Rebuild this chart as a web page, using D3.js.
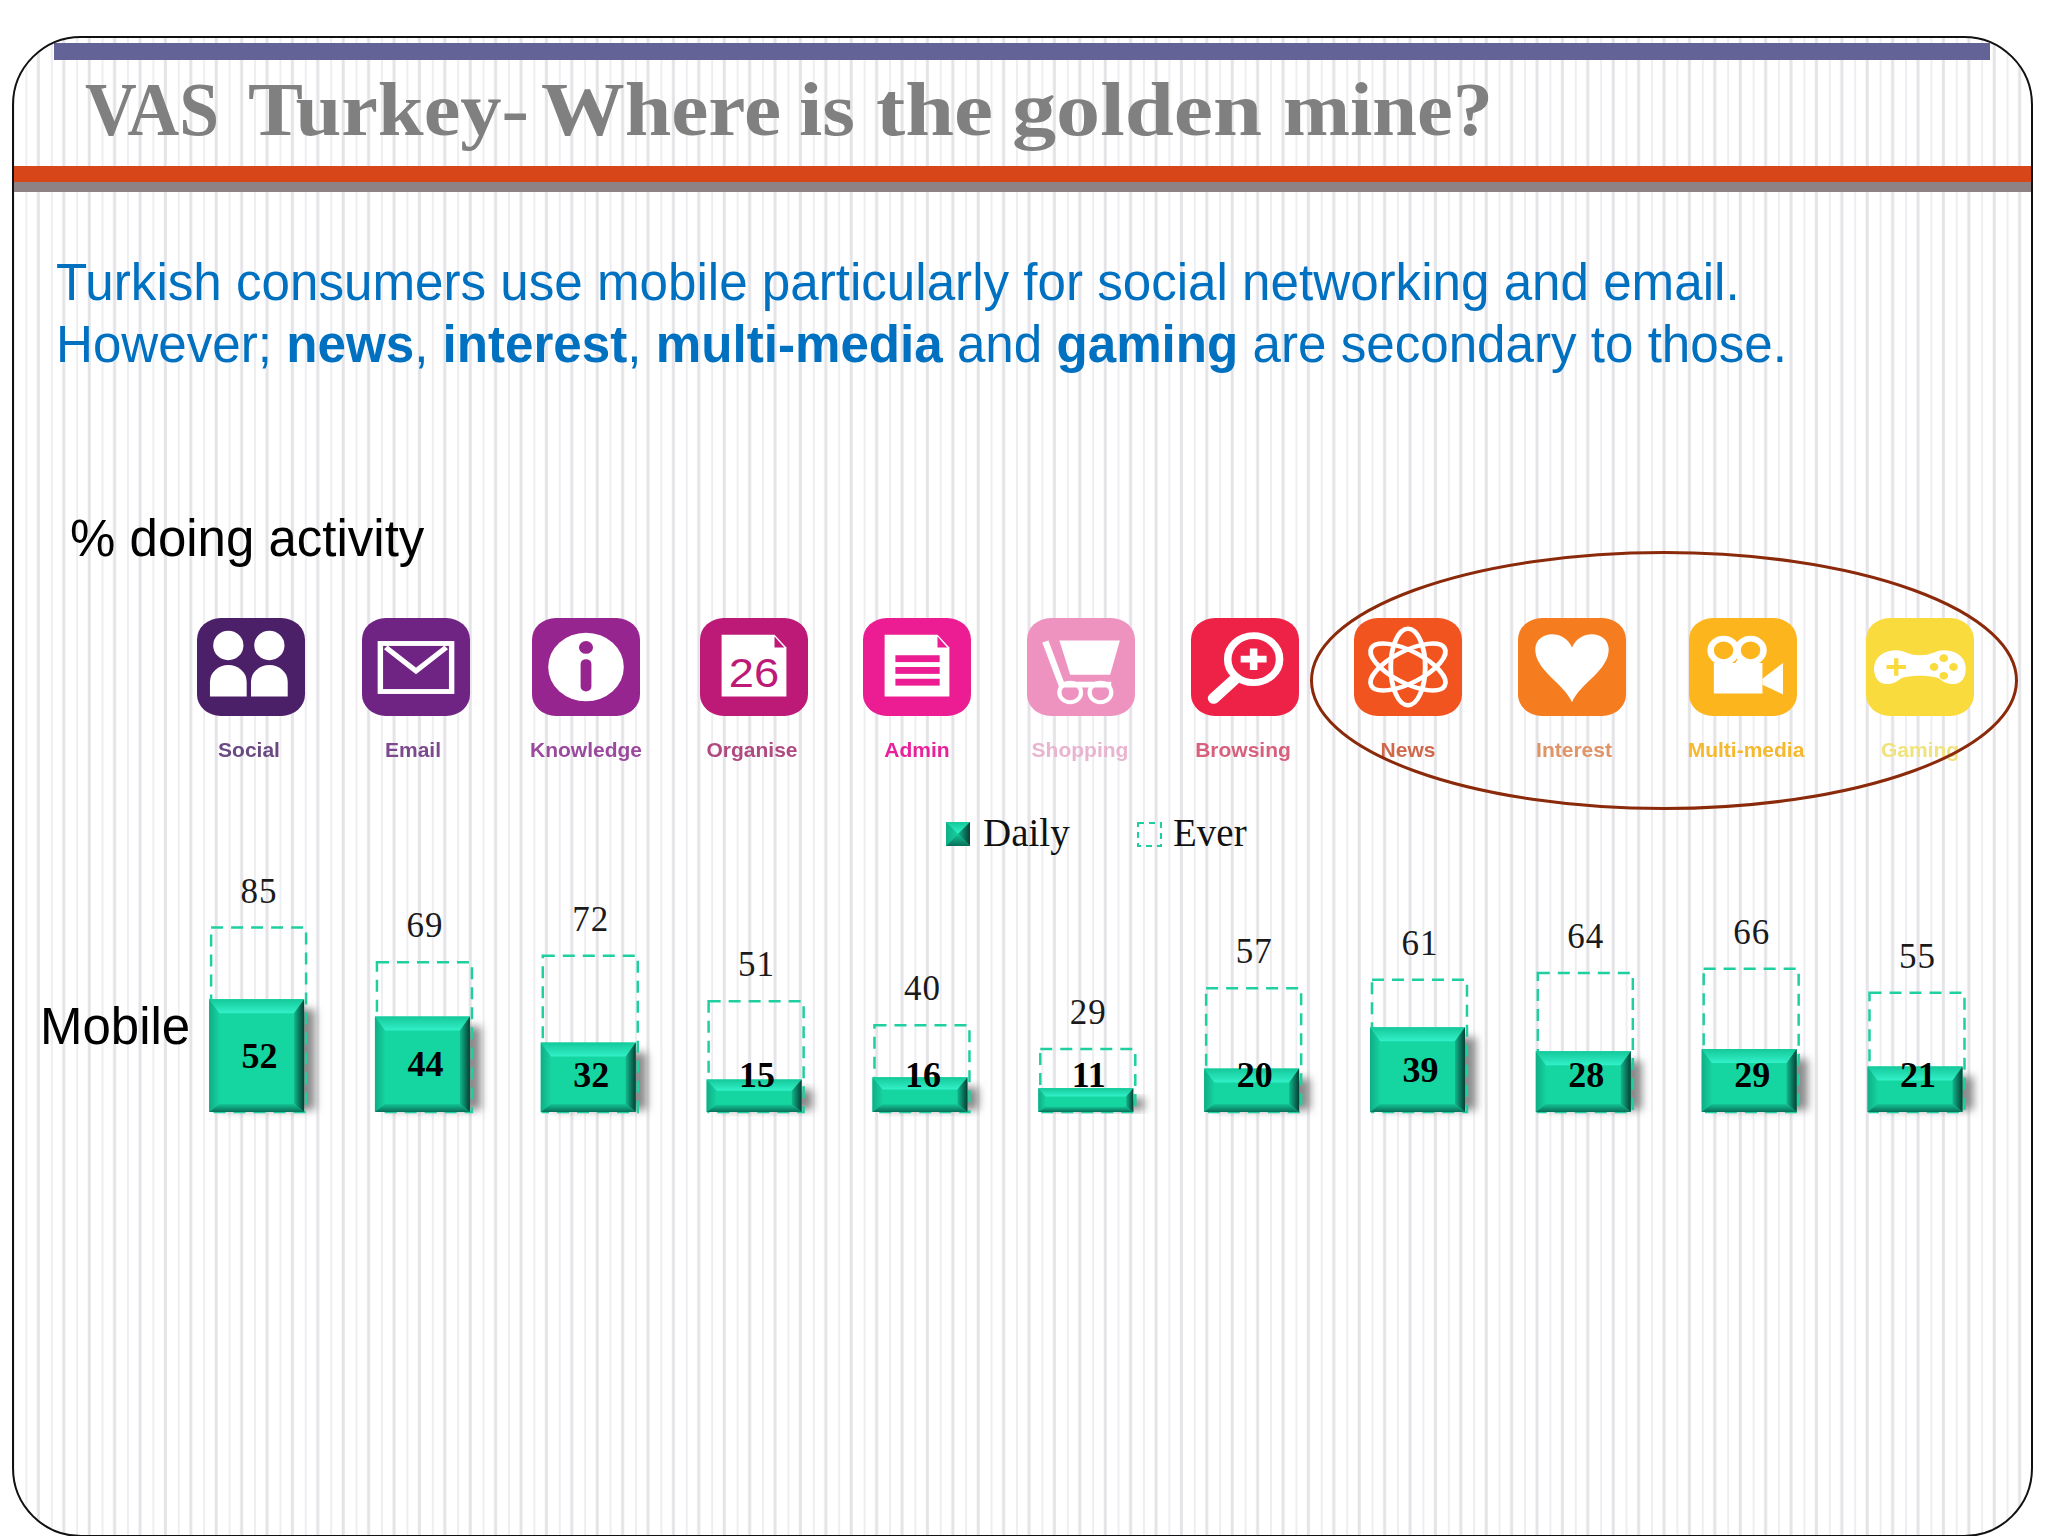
<!DOCTYPE html>
<html>
<head>
<meta charset="utf-8">
<script src="https://cdn.jsdelivr.net/npm/d3@7/dist/d3.min.js"></script>
<style>
  html, body { margin: 0; padding: 0; background: #fff; }
  svg { display: block; }
  .sans { font-family: "Liberation Sans", Arial, sans-serif; }
  .serif { font-family: "Liberation Serif", "Times New Roman", serif; }
</style>
</head>
<body>
<svg id="chart" width="2048" height="1536"></svg>
<script>
var categories = ["Social", "Email", "Knowledge", "Organise", "Admin", "Shopping", "Browsing", "News", "Interest", "Multi-media", "Gaming"];
var daily = [52, 44, 32, 15, 16, 11, 20, 39, 28, 29, 21];
var ever = [85, 69, 72, 51, 40, 29, 57, 61, 64, 66, 55];
var legendLabels = ["Daily", "Ever"];
var titleWords = ["VAS", "Turkey-", "Where", "is", "the", "golden", "mine?"];

// title font is wider than ours, so each word is fitted to its own span
var titleLeft = [85, 248, 541, 799, 876, 1012, 1283];
var titleWidth = [134, 281, 240, 56, 117, 250, 210];

// icons do not line up with the bars, so they get their own layout
var iconLeft = [197, 362, 532, 700, 863, 1027, 1191, 1354, 1518, 1689, 1866];
var labelCenter = [249, 413, 586, 752, 917, 1080, 1243, 1408, 1574, 1746, 1920];
var iconColor = ["#4c2069", "#6f2484", "#97258f", "#bd1a78", "#ec1c93", "#ee93c0", "#ee2247", "#f2541f", "#f57c1f", "#fdb51e", "#f9db3d"];
var labelColor = ["#6b4a82", "#7d4a8e", "#9a4a9c", "#b04a80", "#e8209a", "#e8b4cf", "#d8607c", "#d0684e", "#e09468", "#f5b82e", "#f0e27c"];

var svg = d3.select("#chart");
var defs = svg.append("defs");

defs.append("clipPath").attr("id", "slideClip").append("rect")
  .attr("x", 13).attr("y", 37).attr("width", 2019).attr("height", 1499).attr("rx", 68);

var pat = defs.append("pattern").attr("id", "stripes").attr("patternUnits", "userSpaceOnUse")
  .attr("x", 0).attr("y", 0).attr("width", 25.4).attr("height", 20);
pat.append("rect").attr("x", 0).attr("width", 2).attr("height", 20).attr("fill", "#eeeef1");
pat.append("rect").attr("x", 11.5).attr("width", 3).attr("height", 20).attr("fill", "#e4e4e8");

defs.append("filter").attr("id", "soft").attr("x", "-30%").attr("y", "-30%").attr("width", "160%").attr("height", "160%")
  .append("feGaussianBlur").attr("stdDeviation", 4);

defs.append("filter").attr("id", "smudge").append("feGaussianBlur").attr("stdDeviation", 0.5);

function gradient(id, x2, y2, c0, c1) {
  var g = defs.append("linearGradient").attr("id", id)
    .attr("x1", 0).attr("y1", 0).attr("x2", x2).attr("y2", y2);
  g.append("stop").attr("offset", 0).attr("stop-color", c0);
  g.append("stop").attr("offset", 1).attr("stop-color", c1);
}
gradient("faceTop", 0, 1, "#14c99a", "#32f0c8");
gradient("faceLeft", 1, 0, "#0fae85", "#15d2a0");
gradient("faceRight", 1, 0, "#12b78c", "#053f33");
gradient("faceBottom", 0, 1, "#13c595", "#087059");

// slide background
var slide = svg.append("g").attr("clip-path", "url(#slideClip)");
slide.append("rect").attr("x", 13).attr("y", 37).attr("width", 2019).attr("height", 1499).attr("fill", "#fff");
slide.append("rect").attr("x", 13).attr("y", 37).attr("width", 2019).attr("height", 1499).attr("fill", "url(#stripes)");
slide.append("rect").attr("x", 54).attr("y", 43).attr("width", 1936).attr("height", 17).attr("fill", "#646398");
slide.append("rect").attr("x", 13).attr("y", 166).attr("width", 2019).attr("height", 16).attr("fill", "#d64618");
slide.append("rect").attr("x", 13).attr("y", 182).attr("width", 2019).attr("height", 10).attr("fill", "#8f8285");
svg.append("rect").attr("x", 13).attr("y", 37).attr("width", 2019).attr("height", 1499).attr("rx", 68)
  .attr("fill", "none").attr("stroke", "#111").attr("stroke-width", 2);

// title + text
var title = svg.append("text").attr("class", "serif").attr("y", 135)
  .attr("font-size", 76).attr("font-weight", "bold").attr("fill", "#808080");
titleWords.forEach(function(w, i) {
  if (i) title.append("tspan").text(" ");
  title.append("tspan").attr("x", titleLeft[i]).attr("textLength", titleWidth[i])
    .attr("lengthAdjust", "spacingAndGlyphs").text(w);
});

svg.append("text").attr("class", "sans").attr("x", 56).attr("y", 300)
  .attr("font-size", 51.15).attr("fill", "#0070c0")
  .text("Turkish consumers use mobile particularly for social networking and email.");

var line2 = svg.append("text").attr("class", "sans").attr("x", 56).attr("y", 362)
  .attr("font-size", 51.15).attr("fill", "#0070c0");
[["However; ", 0], ["news", 1], [", ", 0], ["interest", 1], [", ", 0], ["multi-media", 1], [" and ", 0], ["gaming", 1], [" are secondary to those.", 0]]
  .forEach(function(p) {
    line2.append("tspan").attr("font-weight", p[1] ? "bold" : "normal").text(p[0]);
  });

svg.append("text").attr("class", "sans").attr("x", 70).attr("y", 556)
  .attr("font-size", 51).attr("fill", "#000").text("% doing activity");
svg.append("text").attr("class", "sans").attr("x", 40).attr("y", 1044)
  .attr("font-size", 51).attr("fill", "#000").text("Mobile");

// icon glyphs, drawn white on a 100x100 box
function docPage(g, col) {
  g.append("path").attr("fill", "#fff").attr("d", "M20,17 L69,17 L80,30 L80,80 L20,80 Z");
  g.append("path").attr("fill", col).attr("d", "M69,19 L78,30 L69,30 Z");
}
var glyphs = {
  "Social": function(g) {
    [29, 67].forEach(function(cx) {
      g.append("ellipse").attr("cx", cx).attr("cy", 28).attr("rx", 14).attr("ry", 15).attr("fill", "#fff");
      g.append("path").attr("fill", "#fff").attr("d", "M" + (cx - 17) + ",80 L" + (cx - 17) + ",65 A17,17 0 0 1 " + (cx + 17) + ",65 L" + (cx + 17) + ",80 Z");
    });
  },
  "Email": function(g, col) {
    g.append("rect").attr("x", 17).attr("y", 26).attr("width", 66).attr("height", 49)
      .attr("fill", "none").attr("stroke", "#fff").attr("stroke-width", 5);
    g.append("path").attr("fill", "none").attr("stroke", "#fff").attr("stroke-width", 5).attr("d", "M22,30 L50,54 L78,30");
  },
  "Knowledge": function(g, col) {
    g.append("ellipse").attr("cx", 50).attr("cy", 50).attr("rx", 35).attr("ry", 35).attr("fill", "#fff");
    g.append("circle").attr("cx", 50).attr("cy", 30).attr("r", 6.5).attr("fill", col);
    g.append("rect").attr("x", 45).attr("y", 42).attr("width", 10).attr("height", 33).attr("rx", 5).attr("fill", col);
  },
  "Organise": function(g, col) {
    docPage(g, col);
    g.append("text").attr("x", 50).attr("y", 70).attr("text-anchor", "middle")
      .attr("font-family", "'Liberation Sans Narrow', 'Liberation Sans', sans-serif")
      .attr("font-size", 42).attr("fill", col).text("26");
  },
  "Admin": function(g, col) {
    docPage(g, col);
    [38, 50, 62].forEach(function(y) {
      g.append("rect").attr("x", 30).attr("y", y).attr("width", 41).attr("height", 7).attr("fill", col);
    });
  },
  "Shopping": function(g) {
    g.append("path").attr("fill", "none").attr("stroke", "#fff").attr("stroke-width", 6).attr("d", "M17,24 L32,68 L78,68");
    g.append("path").attr("fill", "#fff").attr("d", "M30,23 L86,23 L77,58 L40,58 Z");
    [40, 68].forEach(function(cx) {
      g.append("circle").attr("cx", cx).attr("cy", 76).attr("r", 10).attr("fill", "none").attr("stroke", "#fff").attr("stroke-width", 4);
    });
  },
  "Browsing": function(g) {
    g.append("circle").attr("cx", 58).attr("cy", 42).attr("r", 24).attr("fill", "none").attr("stroke", "#fff").attr("stroke-width", 7);
    g.append("path").attr("stroke", "#fff").attr("stroke-width", 11).attr("stroke-linecap", "round").attr("d", "M40,63 L21,82");
    g.append("path").attr("stroke", "#fff").attr("stroke-width", 7).attr("d", "M58,31 L58,53 M46,42 L70,42");
  },
  "News": function(g) {
    [0, 60, 120].forEach(function(a) {
      g.append("ellipse").attr("cx", 50).attr("cy", 50).attr("rx", 16).attr("ry", 39)
        .attr("transform", "rotate(" + a + " 50 50)")
        .attr("fill", "none").attr("stroke", "#fff").attr("stroke-width", 4.5);
    });
  },
  "Interest": function(g) {
    g.append("path").attr("fill", "#fff")
      .attr("d", "M50,86 C42,66 16,54 16,32 C16,14 42,10 50,30 C58,10 84,14 84,32 C84,54 58,66 50,86 Z");
  },
  "Multi-media": function(g) {
    [32, 57].forEach(function(cx) {
      g.append("circle").attr("cx", cx).attr("cy", 33).attr("r", 12).attr("fill", "none").attr("stroke", "#fff").attr("stroke-width", 6);
    });
    g.append("path").attr("fill", "#fff").attr("d", "M23,46 L43,46 L46,40 L50,46 L68,46 L68,77 L23,77 Z");
    g.append("path").attr("fill", "#fff").attr("d", "M68,62 L87,46 L87,78 L68,68 Z");
  },
  "Gaming": function(g, col) {
    g.append("path").attr("fill", "#fff")
      .attr("d", "M28,33 C36,33 38,38 50,38 C62,38 64,33 72,33 C90,33 94,48 92,56 C90,70 76,70 68,62 C62,58 38,58 32,62 C24,70 10,70 8,56 C6,48 10,33 28,33 Z");
    g.append("path").attr("stroke", col).attr("stroke-width", 4).attr("d", "M19,50 L37,50 M28,41 L28,59");
    [[72, 41], [72, 59], [63, 50], [81, 50]].forEach(function(p) {
      g.append("circle").attr("cx", p[0]).attr("cy", p[1]).attr("r", 4).attr("fill", col);
    });
  }
};

var icons = svg.append("g").selectAll("g").data(categories).join("g")
  .attr("transform", function(d, i) { return "translate(" + iconLeft[i] + ",618) scale(1.08,0.98)"; });
icons.append("rect").attr("width", 100).attr("height", 100).attr("rx", 22).attr("ry", 22)
  .attr("fill", function(d, i) { return iconColor[i]; });
icons.each(function(d, i) { glyphs[d](d3.select(this), iconColor[i]); });

svg.append("g").selectAll("text").data(categories).join("text")
  .attr("class", "sans").attr("x", function(d, i) { return labelCenter[i]; }).attr("y", 757)
  .attr("text-anchor", "middle").attr("font-size", 21).attr("font-weight", "bold")
  .attr("fill", function(d, i) { return labelColor[i]; }).attr("filter", "url(#smudge)")
  .text(function(d) { return d; });

// circled group
svg.append("ellipse").attr("cx", 1664).attr("cy", 680.5).attr("rx", 352.5).attr("ry", 128)
  .attr("fill", "none").attr("stroke", "#8b2a0a").attr("stroke-width", 3);

// scales
var x = d3.scalePoint().domain(categories).range([258.6, 1917]);
var y = d3.scaleLinear().domain([0, 100]).range([1112, 895]);
var bw = 95;

function bevel(g, x0, y0, x1, y1, dt, ds, db) {
  function poly(pts, fill) {
    g.append("polygon").attr("points", pts.map(function(p) { return p.join(","); }).join(" ")).attr("fill", fill);
  }
  g.append("rect").attr("x", x0).attr("y", y0).attr("width", x1 - x0).attr("height", y1 - y0).attr("fill", "#15d6a1");
  poly([[x0, y0], [x1, y0], [x1 - ds, y0 + dt], [x0 + ds, y0 + dt]], "url(#faceTop)");
  poly([[x0, y0], [x0 + ds, y0 + dt], [x0 + ds, y1 - db], [x0, y1]], "url(#faceLeft)");
  poly([[x1, y0], [x1 - ds, y0 + dt], [x1 - ds, y1 - db], [x1, y1]], "url(#faceRight)");
  poly([[x0, y1], [x0 + ds, y1 - db], [x1 - ds, y1 - db], [x1, y1]], "url(#faceBottom)");
}

var bars = svg.append("g").selectAll("g").data(categories).join("g");

// soft shadow to the right of each solid bar
bars.append("rect").attr("filter", "url(#soft)").attr("fill", "#8a8a8a")
  .attr("x", function(d, i) { return x(d) - bw / 2 + 9; })
  .attr("y", function(d, i) { return y(daily[i]) + 10; })
  .attr("width", bw)
  .attr("height", function(d, i) { return y(0) - y(daily[i]) - 12; });

// Ever: dashed outline
bars.append("rect").attr("fill", "none").attr("stroke", "#1fcf9f").attr("stroke-width", 2.5)
  .attr("stroke-dasharray", "12 8")
  .attr("x", function(d) { return x(d) - bw / 2; })
  .attr("y", function(d, i) { return y(ever[i]); })
  .attr("width", bw)
  .attr("height", function(d, i) { return y(0) - y(ever[i]); });

// Daily: bevelled solid
bars.each(function(d, i) {
  var top = y(daily[i]), h = y(0) - top;
  bevel(d3.select(this), x(d) - bw / 2 - 2, top, x(d) + bw / 2 - 2, y(0),
    Math.min(14, h * 0.35), Math.min(10, h * 0.3), Math.min(8, h * 0.22));
});

bars.append("text").attr("class", "serif").attr("text-anchor", "middle").attr("font-size", 35)
  .attr("fill", "#1a1a1a").attr("letter-spacing", 1)
  .attr("x", function(d) { return x(d) + 0.5; })
  .attr("y", function(d, i) { return y(ever[i]) - 25; })
  .text(function(d, i) { return ever[i]; });

// label sits mid bar, short bars push it up to a common line
bars.append("text").attr("class", "serif").attr("text-anchor", "middle").attr("font-size", 36)
  .attr("font-weight", "bold").attr("fill", "#000")
  .attr("x", function(d) { return x(d) + 1; })
  .attr("y", function(d, i) { return Math.min((y(daily[i]) + y(0)) / 2, 1075) + 12; })
  .text(function(d, i) { return daily[i]; });

// legend
bevel(svg.append("g"), 946, 822, 970, 846, 12, 12, 12);
svg.append("rect").attr("x", 1138).attr("y", 823).attr("width", 23).attr("height", 23)
  .attr("fill", "none").attr("stroke", "#1fcf9f").attr("stroke-width", 2).attr("stroke-dasharray", "6 5");
svg.append("g").selectAll("text").data(legendLabels).join("text")
  .attr("class", "serif").attr("font-size", 39).attr("fill", "#111").attr("y", 846)
  .attr("x", function(d, i) { return i ? 1173 : 983; })
  .text(function(d) { return d; });
</script>
</body>
</html>
